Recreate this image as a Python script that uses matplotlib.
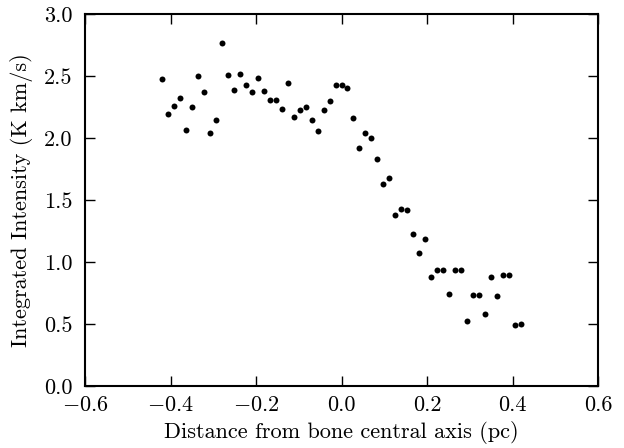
import matplotlib
matplotlib.use("Agg")
import matplotlib.pyplot as plt

distance_pc = [-0.420, -0.406, -0.392, -0.378, -0.364, -0.350, -0.336, -0.322, -0.308, -0.294,
               -0.280, -0.266, -0.252, -0.238, -0.224, -0.210, -0.196, -0.182, -0.168, -0.154,
               -0.140, -0.126, -0.112, -0.098, -0.084, -0.070, -0.056, -0.042, -0.028, -0.014,
               0.000, 0.014, 0.028, 0.042, 0.056, 0.070, 0.084, 0.098, 0.112, 0.126,
               0.140, 0.154, 0.168, 0.182, 0.196, 0.210, 0.224, 0.238, 0.252, 0.266,
               0.280, 0.294, 0.308, 0.322, 0.336, 0.350, 0.364, 0.378, 0.392, 0.406, 0.420]
intensity = [2.476, 2.197, 2.256, 2.326, 2.063, 2.251, 2.498, 2.374, 2.039, 2.143,
             2.764, 2.511, 2.390, 2.519, 2.431, 2.372, 2.485, 2.380, 2.305, 2.305,
             2.235, 2.444, 2.170, 2.224, 2.254, 2.149, 2.055, 2.224, 2.302, 2.425,
             2.425, 2.404, 2.162, 1.918, 2.039, 1.996, 1.832, 1.625, 1.679, 1.383,
             1.424, 1.416, 1.222, 1.069, 1.185, 0.878, 0.937, 0.937, 0.739, 0.932,
             0.932, 0.521, 0.736, 0.736, 0.577, 0.876, 0.723, 0.897, 0.897, 0.489, 0.497]

xticks = [-0.6, -0.4, -0.2, 0.0, 0.2, 0.4, 0.6]
yticks = [0.0, 0.5, 1.0, 1.5, 2.0, 2.5, 3.0]

plt.rcParams['font.family'] = 'serif'
plt.rcParams['font.serif'] = ['cmr10', 'DejaVu Serif']
plt.rcParams['mathtext.fontset'] = 'cm'
plt.rcParams['axes.formatter.use_mathtext'] = True
plt.rcParams['axes.unicode_minus'] = True

fig = plt.figure(figsize=(6.24, 4.48), dpi=100)
ax = fig.add_axes([85/624, 1 - 386/448, (598 - 85)/624, (386 - 14)/448])
ax.plot(distance_pc, intensity, 'o', color='black', markersize=4.3, markeredgewidth=0)
ax.set_xlim(-0.6, 0.6)
ax.set_ylim(0.0, 3.0)
ax.set_xticks(xticks)
ax.set_yticks(yticks)
ax.set_xticklabels([("$-$" if v < 0 else "") + f"{abs(v):.1f}" for v in xticks])
ax.set_yticklabels([f"{v:.1f}" for v in yticks])
ax.tick_params(direction='in', top=True, right=True, length=7, width=1, labelsize=16)
ax.tick_params(axis='x', pad=7)
ax.tick_params(axis='y', pad=9)
for s in ax.spines.values():
    s.set_linewidth(1.5)
ax.set_xlabel('Distance from bone central axis (pc)', fontsize=16, labelpad=4)
ax.set_ylabel('Integrated Intensity (K km/s)', fontsize=16, labelpad=8)
fig.savefig('out.png', dpi=100)
